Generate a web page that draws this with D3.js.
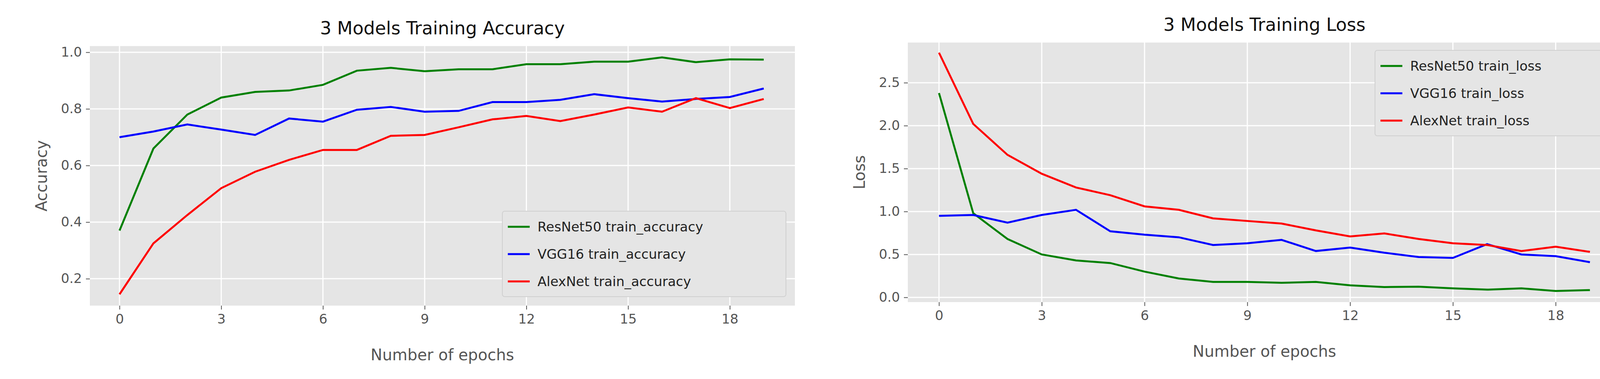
<!DOCTYPE html><html><head><meta charset="utf-8"><script src="https://cdn.jsdelivr.net/npm/d3@7"></script>
<style>body{margin:0;background:#fff}text{font-family:"DejaVu Sans",sans-serif}</style></head><body>
<svg id="c" width="4173" height="971"></svg>
<script>
const epochs=d3.range(20);
const xTicks=[0,3,6,9,12,15,18];
const accTicks=[0.2,0.4,0.6,0.8,1.0];
const lossTicks=[0.0,0.5,1.0,1.5,2.0,2.5];
const resnetAcc=[0.37,0.66,0.78,0.84,0.86,0.865,0.885,0.935,0.945,0.933,0.94,0.94,0.958,0.958,0.967,0.967,0.982,0.965,0.975,0.974];
const vggAcc=[0.70,0.72,0.745,0.727,0.708,0.766,0.755,0.797,0.807,0.79,0.793,0.824,0.824,0.832,0.852,0.838,0.826,0.835,0.842,0.872];
const alexAcc=[0.145,0.325,0.425,0.52,0.578,0.62,0.655,0.655,0.705,0.708,0.735,0.763,0.775,0.757,0.78,0.805,0.79,0.838,0.803,0.835];
const resnetLoss=[2.38,0.98,0.68,0.50,0.43,0.40,0.30,0.22,0.18,0.18,0.17,0.18,0.14,0.12,0.125,0.105,0.09,0.105,0.075,0.085];
const vggLoss=[0.95,0.96,0.87,0.96,1.02,0.77,0.73,0.70,0.61,0.63,0.67,0.54,0.58,0.52,0.47,0.46,0.62,0.50,0.48,0.41];
const alexLoss=[2.85,2.02,1.66,1.44,1.28,1.19,1.06,1.02,0.92,0.89,0.86,0.78,0.71,0.745,0.68,0.63,0.61,0.54,0.59,0.53];
const colors=["#008000","#0000ff","#ff0000"];
const svg=d3.select("#c");
function panel(o){
  const g=svg.append("g");
  const x=d3.scaleLinear().domain(o.xd).range([o.l,o.r]);
  const y=d3.scaleLinear().domain(o.yd).range([o.b,o.t]);
  g.append("rect").attr("x",o.l).attr("y",o.t).attr("width",o.r-o.l).attr("height",o.b-o.t).attr("fill","#e5e5e5");
  g.selectAll(".gx").data(xTicks).join("line").attr("x1",d=>x(d)).attr("x2",d=>x(d)).attr("y1",o.t).attr("y2",o.b).attr("stroke","#fff").attr("stroke-width",3);
  g.selectAll(".gy").data(o.yt).join("line").attr("y1",d=>y(d)).attr("y2",d=>y(d)).attr("x1",o.l).attr("x2",o.r).attr("stroke","#fff").attr("stroke-width",3);
  const ax=g.append("g").attr("transform",`translate(0,${o.b})`).call(d3.axisBottom(x).tickValues(xTicks).tickFormat(d3.format("d")).tickSize(10).tickPadding(12));
  const ay=g.append("g").attr("transform",`translate(${o.l},0)`).call(d3.axisLeft(y).tickValues(o.yt).tickFormat(d3.format(".1f")).tickSize(10).tickPadding(10));
  [ax,ay].forEach(a=>{a.select(".domain").remove();a.selectAll("line").attr("stroke","#555").attr("stroke-width",2);a.selectAll("text").attr("fill","#555").style("font-size","34px").style("font-family","DejaVu Sans");});
  const line=d3.line().x((d,i)=>x(epochs[i])).y(d=>y(d));
  o.series.forEach((s,i)=>g.append("path").attr("d",line(s)).attr("fill","none").attr("stroke",colors[i]).attr("stroke-width",5));
  g.append("text").attr("x",(o.l+o.r)/2).attr("y",o.t-30).attr("text-anchor","middle").style("font-size","46px").attr("fill","#111").text(o.title);
  g.append("text").attr("x",(o.l+o.r)/2).attr("y",o.b+140).attr("text-anchor","middle").style("font-size","40px").attr("fill","#555").text("Number of epochs");
  g.append("text").attr("transform",`translate(${o.l-110},${(o.t+o.b)/2}) rotate(-90)`).attr("text-anchor","middle").style("font-size","40px").attr("fill","#555").text(o.ylab);
  const L=o.leg;
  g.append("rect").attr("x",L.x).attr("y",L.y).attr("width",L.w).attr("height",L.h).attr("rx",6).attr("fill","#e5e5e5").attr("stroke","#d0d0d0").attr("stroke-width",2);
  o.names.forEach((n,i)=>{const yy=L.y+40+i*70;
    g.append("line").attr("x1",L.x+14).attr("x2",L.x+70).attr("y1",yy).attr("y2",yy).attr("stroke",colors[i]).attr("stroke-width",5);
    g.append("text").attr("x",L.x+90).attr("y",yy+12).style("font-size","34px").attr("fill","#222").text(n);});
}
panel({l:230,r:2035,t:118,b:783,xd:[-0.875,19.92],yd:[0.105,1.022],yt:accTicks,series:[resnetAcc,vggAcc,alexAcc],
  title:"3 Models Training Accuracy",ylab:"Accuracy",names:["ResNet50 train_accuracy","VGG16 train_accuracy","AlexNet train_accuracy"],leg:{x:1286,y:541,w:726,h:219}});
panel({l:2324,r:4150,t:109,b:774,xd:[-0.91,19.91],yd:[-0.055,2.968],yt:lossTicks,series:[resnetLoss,vggLoss,alexLoss],
  title:"3 Models Training Loss",ylab:"Loss",names:["ResNet50 train_loss","VGG16 train_loss","AlexNet train_loss"],leg:{x:3520,y:129,w:608,h:219}});
</script></body></html>
